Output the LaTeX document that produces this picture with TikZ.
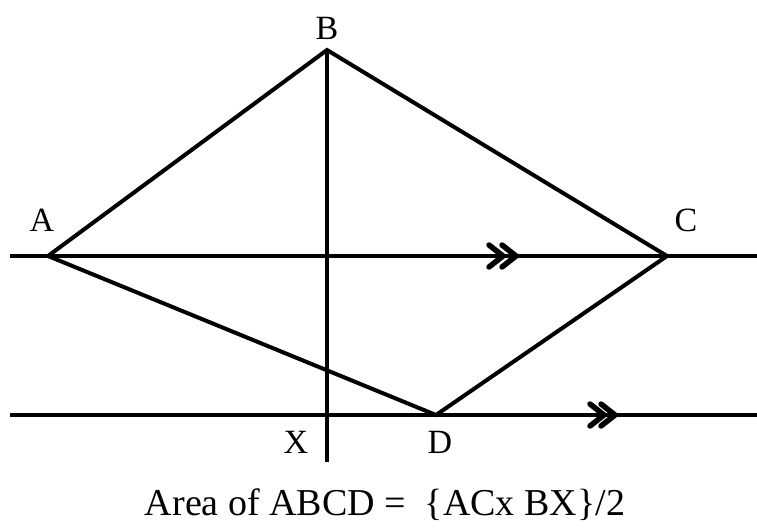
\documentclass[tikz,border=0pt]{standalone}
\usepackage{fontspec}
\setmainfont{Liberation Serif}
\begin{document}
\begin{tikzpicture}[x=1pt,y=-1pt,
  ln/.style={line width=4pt,black},
  chev/.style={line width=5.5pt,line cap=round,line join=round},
  lbl/.style={font=\fontsize{34}{40}\selectfont,inner sep=0pt}]
\useasboundingbox (0,0) rectangle (757,529);
\coordinate (A) at (48,256);
\coordinate (B) at (327,50);
\coordinate (C) at (667,256);
\coordinate (D) at (436,415);
\coordinate (X) at (327,415);
\coordinate (Xb) at (327,462);
\coordinate (L1a) at (10,256);
\coordinate (L1b) at (757,256);
\coordinate (L2a) at (10,415);
\coordinate (L2b) at (757,415);
% parallel lines
\draw[ln] (L1a) -- (L1b);
\draw[ln] (L2a) -- (L2b);
% perpendicular
\draw[ln] (B) -- (Xb);
% quadrilateral
\draw[ln,line join=miter] (A) -- (B) -- (C) -- (D) -- cycle;
% parallel marks
\foreach \t/\y in {503/256,516/256,604/415,615/415}
  \draw[chev] (\t-14,\y-11) -- (\t,\y) -- (\t-14,\y+11);
% labels
\node[lbl] (lA) at (42,220) {A};
\node[lbl] (lB) at (327,28) {B};
\node[lbl] (lC) at (686,220) {C};
\node[lbl] (lX) at (296,442) {X};
\node[lbl] (lD) at (440,442) {D};
\node[lbl,font=\fontsize{38}{44}\selectfont,anchor=base] (cap) at (385,515) {Area of ABCD~=~ \{ACx BX\}/2};
\end{tikzpicture}
\end{document}
